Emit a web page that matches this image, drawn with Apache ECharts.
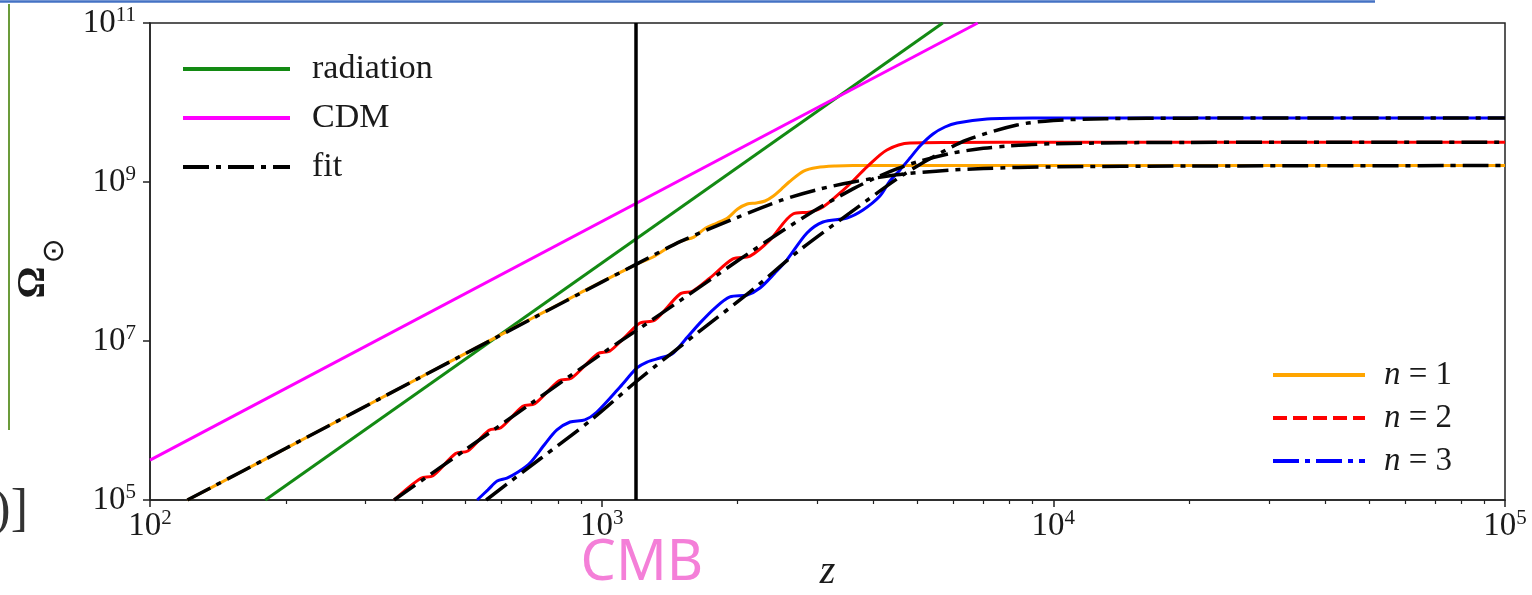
<!DOCTYPE html>
<html>
<head>
<meta charset="utf-8">
<title>Omega vs z</title>
<script src="https://cdn.jsdelivr.net/npm/echarts@6.0.0/dist/echarts.min.js"></script>
<style>
    html, body { margin: 0; padding: 0; background: #fff; }
    #chart { width: 1532px; height: 595px; }
</style>
</head>
<body>
<div id="chart"></div>
<script>
// radiation / CDM power laws
var zRad = [180, 5690];
var omegaRad = [1e5, 1e11];
var zCdm = [100, 6800];
var omegaCdm = [3.18e5, 1e11];

// n = 1 (orange) and its fit
var zN1 = [121, 150, 200, 300, 400, 500, 600, 700, 800, 900, 1000, 1100, 1200, 1300, 1400, 1500, 1600, 1700, 1800, 1900,
    2000, 2100, 2200, 2300, 2400, 2500, 2600, 2800, 3000, 3300, 3600, 5000, 10000, 100000];
var omegaN1 = [1.0e5, 1.89e5, 4.47e5, 1.51e6, 3.58e6, 6.99e6, 1.21e7, 1.92e7, 2.86e7, 4.08e7, 5.55e7, 7.3e7, 9.31e7, 1.14e8, 1.48e8, 1.81e8, 2.03e8, 2.64e8, 3.05e8, 3.52e8,
    4.57e8, 5.28e8, 5.45e8, 5.77e8, 6.67e8, 8.16e8, 1.0e9, 1.37e9, 1.52e9, 1.59e9, 1.61e9, 1.61e9, 1.61e9, 1.61e9];
var zFit1 = [121, 200, 400, 700, 1000, 1200, 1500, 2000, 2500, 3000, 3600, 4500, 5500, 7000, 10000, 20000, 100000];
var omegaFit1 = [1.0e5, 4.47e5, 3.58e6, 1.9e7, 5.5e7, 9.4e7, 1.8e8, 3.6e8, 5.9e8, 8.0e8, 1.0e9, 1.23e9, 1.37e9, 1.48e9, 1.55e9, 1.59e9, 1.61e9];

// n = 2 (red) and its fit
var zN2 = [347, 398, 423, 475, 505, 563, 598, 669, 711, 805, 856, 980, 1041, 1120, 1216, 1312, 1491, 1592, 1737, 1953,
    2130, 2359, 2652, 2892, 3090, 3371, 3600, 3867, 4281, 4815, 5905, 10000, 100000];
var omegaN2 = [1.0e5, 1.88e5, 2.02e5, 3.84e5, 4.12e5, 7.53e5, 8.09e5, 1.51e6, 1.62e6, 3.16e6, 3.39e6, 6.92e6, 7.44e6, 1.09e7, 1.685e7, 1.836e7, 3.9e7, 4.26e7, 6.21e7, 1.08e8,
    1.17e8, 1.87e8, 3.96e8, 4.2e8, 4.85e8, 7.28e8, 1.03e9, 1.55e9, 2.53e9, 3.1e9, 3.14e9, 3.16e9, 3.16e9];
var zFit2 = [347, 500, 700, 1000, 1200, 1500, 2000, 2500, 3000, 3600, 4000, 4500, 5000, 6000, 7000, 8000, 10000, 20000, 100000];
var omegaFit2 = [1.0e5, 4.31e5, 1.66e6, 6.9e6, 1.38e7, 3.29e7, 1.02e8, 2.38e8, 4.56e8, 8.19e8, 1.10e9, 1.46e9, 1.79e9, 2.32e9, 2.65e9, 2.84e9, 3.03e9, 3.15e9, 3.16e9];

// n = 3 (blue) and its fit
var zN3 = [530, 560, 587, 617, 653, 694, 749, 796, 851, 918, 976, 1098, 1197, 1260, 1346, 1431, 1529, 1651, 1781, 1923,
    2098, 2241, 2419, 2572, 2848, 3090, 3492, 3789, 4131, 4347, 4576, 4815, 5066, 5414, 5754, 6118, 7132, 9015, 100000];
var omegaN3 = [1.0e5, 1.34e5, 1.73e5, 1.89e5, 2.25e5, 2.92e5, 5.06e5, 7.6e5, 9.58e5, 1.02e6, 1.28e6, 2.64e6, 4.58e6, 5.44e6, 6.11e6, 6.86e6, 1.03e7, 1.69e7, 2.6e7, 3.58e7,
    3.79e7, 4.64e7, 7.17e7, 1.05e8, 2.28e8, 3.14e8, 3.53e8, 4.45e8, 6.67e8, 1.03e9, 1.42e9, 2.0e9, 2.84e9, 4.02e9, 4.92e9, 5.53e9, 6.21e9, 6.39e9, 6.4e9];
var zFit3 = [555, 730, 942, 1197, 1651, 2130, 2748, 3545, 4576, 5414, 6439, 8307, 10000, 13000, 20000, 100000];
var omegaFit3 = [1.0e5, 3.28e5, 9.86e5, 3.14e6, 1.34e7, 4.14e7, 1.4e8, 4.08e8, 1.16e9, 2.06e9, 3.38e9, 5.21e9, 5.94e9, 6.25e9, 6.36e9, 6.4e9];

// ticks
var xTicks = [100, 1000, 10000, 100000];
var xMinorTicks = [200, 300, 400, 500, 600, 700, 800, 900, 2000, 3000, 4000, 5000, 6000, 7000, 8000, 9000,
    20000, 30000, 40000, 50000, 60000, 70000, 80000, 90000];
var yTicks = [1e5, 1e7, 1e9, 1e11];
var cmbZ = 1190;

var serif = '"Liberation Serif", "DejaVu Serif", serif';
var fitDash = [26, 7, 5, 7];

function pairs(xs, ys) {
    var out = [];
    for (var i = 0; i < xs.length; i++) {
        out.push([xs[i], ys[i]]);
    }
    return out;
}

// 10^n label
function powLabel(value) {
    var e = Math.round(Math.log(value) / Math.LN10);
    return '{b|10}{e|' + e + '}';
}

var powRich = {
    b: { fontFamily: serif, fontSize: 33, lineHeight: 36, color: '#1a1a1a' },
    e: { fontFamily: serif, fontSize: 21, lineHeight: 21, verticalAlign: 'top', color: '#1a1a1a' }
};

function curve(name, data, color, width, type) {
    return {
        name: name,
        type: 'line',
        data: data,
        symbol: 'none',
        smooth: 0.3,
        silent: true,
        lineStyle: { color: color, width: width, type: type },
        itemStyle: { color: color }
    };
}

var cdmSeries = curve('CDM', pairs(zCdm, omegaCdm), '#ff00ff', 3, 'solid');
cdmSeries.smooth = false;
// CMB line
cdmSeries.markLine = {
    silent: true,
    symbol: 'none',
    animation: false,
    lineStyle: { color: '#000', width: 3.5, type: 'solid' },
    label: {
        show: true,
        position: 'start',
        distance: 36,
        padding: [0, 0, 0, 12],
        formatter: 'CMB',
        color: '#f47fd8',
        fontFamily: '"Noto Sans", "DejaVu Sans", sans-serif',
        fontSize: 56
    },
    data: [{ xAxis: cmbZ }]
};

var radSeries = curve('radiation', pairs(zRad, omegaRad), '#138a13', 3, 'solid');
radSeries.smooth = false;

var option = {
    animation: false,
    backgroundColor: '#fff',
    grid: {
        left: 150,
        right: 27,
        top: 23,
        bottom: 95,
        show: true,
        borderColor: '#222',
        borderWidth: 1.5,
        containLabel: false,
        outerBoundsMode: 'none'
    },
    legend: [
        {
            orient: 'vertical',
            left: 176,
            top: 46,
            itemWidth: 107,
            itemHeight: 16,
            itemGap: 13,
            selectedMode: false,
            itemStyle: { opacity: 0 },
            lineStyle: { width: 4 },
            textStyle: { fontFamily: serif, fontSize: 34, lineHeight: 36, color: '#1a1a1a', padding: [0, 0, 0, 17] },
            data: ['radiation', 'CDM', 'fit']
        },
        {
            orient: 'vertical',
            left: 1266,
            top: 352,
            itemWidth: 92,
            itemHeight: 16,
            itemGap: 7,
            selectedMode: false,
            itemStyle: { opacity: 0 },
            lineStyle: { width: 4 },
            formatter: function (name) {
                return '{i|n}{t|' + name.slice(1) + '}';
            },
            textStyle: {
                fontFamily: serif, fontSize: 33, lineHeight: 36, color: '#1a1a1a', padding: [0, 0, 0, 14],
                rich: {
                    i: { fontFamily: serif, fontStyle: 'italic', fontSize: 33, lineHeight: 36, color: '#1a1a1a' },
                    t: { fontFamily: serif, fontSize: 33, lineHeight: 36, color: '#1a1a1a' }
                }
            },
            data: [
                { name: 'n = 1' },
                { name: 'n = 2', lineStyle: { type: [14, 6] } },
                { name: 'n = 3', lineStyle: { type: [26, 6, 5, 6] } }
            ]
        }
    ],
    xAxis: [
        {
            type: 'log',
            logBase: 10,
            min: 100,
            max: 100000,
            name: 'z',
            nameLocation: 'middle',
            nameGap: 52,
            nameTextStyle: { fontFamily: serif, fontStyle: 'italic', fontSize: 40, color: '#1a1a1a' },
            axisLine: { show: true, lineStyle: { color: '#222', width: 1.5 } },
            axisTick: { show: true, inside: false, length: 7, customValues: xTicks, lineStyle: { color: '#222', width: 1.5 } },
            axisLabel: { show: true, margin: 8, customValues: xTicks, formatter: powLabel, rich: powRich },
            splitLine: { show: false }
        },
        {
            type: 'log',
            logBase: 10,
            min: 100,
            max: 100000,
            position: 'bottom',
            axisLine: { show: false },
            axisTick: { show: true, inside: false, length: 4, customValues: xMinorTicks, lineStyle: { color: '#222', width: 1.2 } },
            axisLabel: { show: false },
            splitLine: { show: false }
        }
    ],
    yAxis: {
        type: 'log',
        logBase: 10,
        min: 1e5,
        max: 1e11,
        name: '{o|Ω}{s|⊙}',
        nameLocation: 'middle',
        nameRotate: 90,
        nameGap: 92,
        nameTextStyle: {
            padding: [0, 14, 0, 0],
            rich: {
                o: { fontFamily: serif, fontWeight: 'bold', fontSize: 40, lineHeight: 48, color: '#1a1a1a' },
                s: { fontFamily: '"DejaVu Sans", sans-serif', fontSize: 30, lineHeight: 14, verticalAlign: 'top', padding: [30, 0, 0, 3], color: '#1a1a1a' }
            }
        },
        axisLine: { show: true, lineStyle: { color: '#222', width: 1.5 } },
        axisTick: { show: true, inside: false, length: 7, customValues: yTicks, lineStyle: { color: '#222', width: 1.5 } },
        axisLabel: { show: true, margin: 14, customValues: yTicks, formatter: powLabel, rich: powRich },
        splitLine: { show: false }
    },
    graphic: [
        { type: 'line', silent: true, shape: { x1: 0, y1: 1.5, x2: 1375, y2: 1.5 }, style: { stroke: '#4472c4', lineWidth: 2.5 } },
        { type: 'line', silent: true, shape: { x1: 9, y1: 4, x2: 9, y2: 430 }, style: { stroke: '#6b9b3a', lineWidth: 2 } },
        {
            type: 'text', silent: true,
            style: { text: ')]', x: 28, y: 511, align: 'right', verticalAlign: 'middle', font: '52px "Liberation Serif"', fill: '#333' }
        }
    ],
    series: [
        radSeries,
        cdmSeries,
        curve('n = 1', pairs(zN1, omegaN1), '#ffa500', 3, 'solid'),
        curve('n = 2', pairs(zN2, omegaN2), '#ff0000', 3, 'solid'),
        curve('n = 3', pairs(zN3, omegaN3), '#0000ff', 3, 'solid'),
        curve('fit', pairs(zFit1, omegaFit1), '#000', 3.5, fitDash),
        curve('fit', pairs(zFit2, omegaFit2), '#000', 3.5, fitDash),
        curve('fit', pairs(zFit3, omegaFit3), '#000', 3.5, fitDash)
    ]
};

var myChart = echarts.init(document.getElementById('chart'), null, { renderer: 'canvas' });
myChart.setOption(option);
</script>
</body>
</html>
